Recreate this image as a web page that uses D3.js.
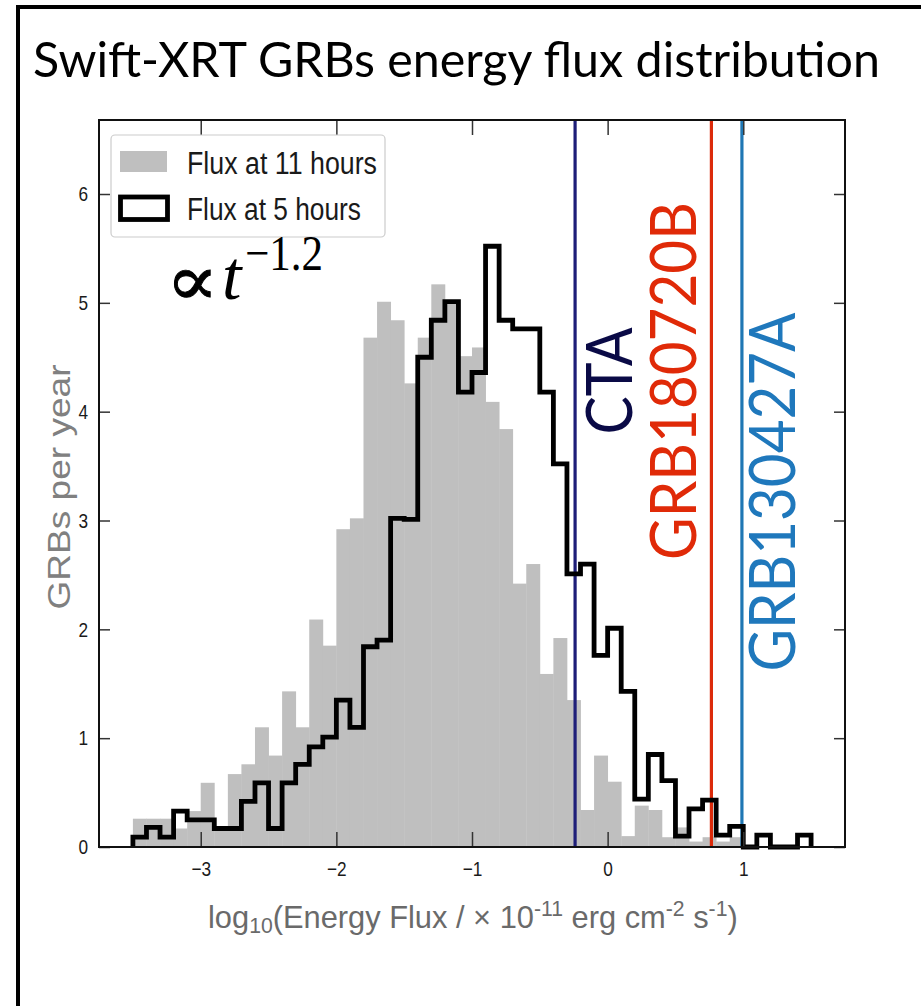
<!DOCTYPE html>
<html>
<head>
<meta charset="utf-8">
<script src="https://cdn.jsdelivr.net/npm/d3@7"></script>
<style>
  body { margin: 0; background: #fff; }
  svg { display: block; }
</style>
</head>
<body>
<svg id="chart" width="921" height="1006"></svg>
<script>
// Histogram binning: 0.1-dex bins in log10 energy flux, starting at -3.5
const binStart = -3.5;
const binWidth = 0.1;

// GRBs per year in each bin, flux extrapolated to 11 hours (filled histogram)
const flux11h = [
  0.26, 0.26, 0.26, 0.17, 0.33, 0.59, 0.15, 0.67, 0.76, 1.10,
  0.84, 1.43, 1.10, 2.09, 1.85, 2.92, 3.02, 4.68, 5.01, 4.84,
  4.26, 4.68, 5.17, 4.98, 4.51, 4.59, 4.09, 3.84, 2.42, 2.60,
  1.59, 1.92, 1.35, 0.34, 0.84, 0.60, 0.10, 0.38, 0.34, 0.09,
  0.18, 0.05, 0.09, 0.05, 0.09, 0.00, 0.00, 0.00, 0.00, 0.00
];

// GRBs per year in each bin, flux extrapolated to 5 hours (step outline)
const flux5h = [
  0.09, 0.18, 0.09, 0.33, 0.25, 0.25, 0.17, 0.17, 0.42, 0.59,
  0.17, 0.59, 0.76, 0.92, 1.01, 1.35, 1.10, 1.84, 1.90, 3.02,
  3.01, 4.50, 4.84, 5.01, 4.18, 4.36, 5.52, 4.84, 4.76, 4.76,
  4.18, 3.52, 2.51, 2.60, 1.76, 2.01, 1.43, 0.44, 0.85, 0.61,
  0.10, 0.35, 0.43, 0.11, 0.19, 0.00, 0.11, 0.00, 0.00, 0.11
];

// Reference flux levels drawn as vertical lines
const markerNames = ["CTA", "GRB180720B", "GRB130427A"];
const markerValues = [-0.24, 0.765, 0.99];

// Axis ticks
const xTicks = [-3, -2, -1, 0, 1];
const yTicks = [0, 1, 2, 3, 4, 5, 6];

const seriesNames = ["Flux at 11 hours", "Flux at 5 hours"];
const titleText = "Swift-XRT GRBs energy flux distribution";

// ---------------------------------------------------------------------------
const svg = d3.select("#chart");
const W = 921, H = 1006;
const plot = { left: 99, right: 845, top: 120, bottom: 847 };

const x = d3.scaleLinear().domain([-3.75, 1.75]).range([plot.left, plot.right]);
const y = d3.scaleLinear().domain([0, 6.68]).range([plot.bottom, plot.top]);

const narrow = "'Liberation Sans Narrow', 'Liberation Sans', Arial, sans-serif";
const calib = "Lato, 'Open Sans', sans-serif";
const markerColors = ["#1e1e78", "#dc2a0a", "#1f77b4"];
const markerTextColors = ["#0a0a46", "#e02a08", "#1f78bc"];

// squeeze a plain text element horizontally by a factor
function condense(sel, factor) {
  sel.each(function () {
    const w = this.getComputedTextLength();
    d3.select(this).attr("textLength", w * factor).attr("lengthAdjust", "spacingAndGlyphs");
  });
}

svg.append("rect").attr("width", W).attr("height", H).attr("fill", "#fff");

// slide frame
svg.append("rect")
  .attr("x", 18).attr("y", 7).attr("width", W + 10).attr("height", H + 10)
  .attr("fill", "none").attr("stroke", "#000").attr("stroke-width", 4);

// title
svg.append("text")
  .attr("x", 33).attr("y", 77)
  .attr("font-family", calib).attr("font-size", 49)
  .attr("fill", "#000")
  .attr("textLength", 847).attr("lengthAdjust", "spacingAndGlyphs")
  .text(titleText);

const bins = flux11h.map((v, i) => ({
  x0: binStart + i * binWidth,
  x1: binStart + (i + 1) * binWidth,
  v11: v,
  v5: flux5h[i]
}));

const g = svg.append("g");

// filled histogram (11 hours)
g.selectAll("rect.bar")
  .data(bins.filter(d => d.v11 > 0))
  .join("rect")
  .attr("class", "bar")
  .attr("x", d => x(d.x0))
  .attr("width", d => x(d.x1) - x(d.x0) + 0.4)
  .attr("y", d => y(d.v11))
  .attr("height", d => y(0) - y(d.v11))
  .attr("fill", "#bfbfbf");

// step outline (5 hours)
const stepPts = [[bins[0].x0, 0]];
bins.forEach(d => { stepPts.push([d.x0, d.v5]); stepPts.push([d.x1, d.v5]); });
stepPts.push([bins[bins.length - 1].x1, 0]);
const stepLine = d3.line().x(d => x(d[0])).y(d => y(d[1]));

// vertical reference lines
markerValues.forEach((v, i) => {
  g.append("line")
    .attr("x1", x(v)).attr("x2", x(v))
    .attr("y1", plot.top).attr("y2", plot.bottom)
    .attr("stroke", markerColors[i]).attr("stroke-width", 3.2);
});

g.append("path")
  .attr("d", stepLine(stepPts))
  .attr("fill", "none")
  .attr("stroke", "#000")
  .attr("stroke-width", 4.8)
  .attr("stroke-linejoin", "miter");

// vertical marker labels
const markerLabelPos = [
  { cx: 609, cy: 381, len: 107, fs: 64 },
  { cx: 673, cy: 381, len: 358, fs: 64 },
  { cx: 772, cy: 492, len: 359, fs: 64 }
];
markerNames.forEach((name, i) => {
  const p = markerLabelPos[i];
  svg.append("text")
    .attr("transform", `translate(${p.cx},${p.cy}) rotate(-90)`)
    .attr("text-anchor", "middle")
    .attr("dy", "0.36em")
    .attr("font-family", calib).attr("font-size", p.fs)
    .attr("fill", markerTextColors[i])
    .attr("textLength", p.len).attr("lengthAdjust", "spacingAndGlyphs")
    .text(name);
});

// axes with inward ticks on all four sides
const tickColor = "#333";
const xAxis = svg.append("g")
  .attr("transform", `translate(0,${plot.bottom})`)
  .call(d3.axisBottom(x).tickValues(xTicks).tickSize(-15).tickPadding(14).tickFormat(d3.format("d")));
const yAxis = svg.append("g")
  .attr("transform", `translate(${plot.left},0)`)
  .call(d3.axisLeft(y).tickValues(yTicks).tickSize(-11).tickPadding(11).tickFormat(d3.format("d")));
const xTop = svg.append("g")
  .attr("transform", `translate(0,${plot.top})`)
  .call(d3.axisTop(x).tickValues(xTicks).tickSize(-15).tickFormat(""));
const yRight = svg.append("g")
  .attr("transform", `translate(${plot.right},0)`)
  .call(d3.axisRight(y).tickValues(yTicks).tickSize(-11).tickFormat(""));

[xAxis, yAxis, xTop, yRight].forEach(a => {
  a.select(".domain").remove();
  a.selectAll(".tick line").attr("stroke", tickColor).attr("stroke-width", 1.5);
  a.selectAll(".tick text")
    .attr("font-family", narrow).attr("font-size", 21).attr("fill", "#1a1a1a");
});
condense(xAxis.selectAll(".tick text"), 0.82);
condense(yAxis.selectAll(".tick text"), 0.82);

// spines
svg.append("rect")
  .attr("x", plot.left).attr("y", plot.top)
  .attr("width", plot.right - plot.left).attr("height", plot.bottom - plot.top)
  .attr("fill", "none").attr("stroke", "#111").attr("stroke-width", 2);

// y label
svg.append("text")
  .attr("transform", `translate(58,487) rotate(-90)`)
  .attr("text-anchor", "middle")
  .attr("dy", "0.36em")
  .attr("font-family", narrow).attr("font-size", 32)
  .attr("fill", "#808080")
  .attr("textLength", 245).attr("lengthAdjust", "spacingAndGlyphs")
  .text("GRBs per year");

// x label with sub/superscripts, scaled to span its width
const xl = svg.append("text")
  .attr("x", 208).attr("y", 928)
  .attr("font-family", narrow).attr("font-size", 32)
  .attr("fill", "#6a6a6a");
const parts = [
  ["log", 0], ["10", -1], ["(Energy Flux / × 10", 0], ["-11", 1],
  [" erg cm", 0], ["-2", 1], [" s", 0], ["-1", 1], [")", 0]
];
parts.forEach(([t, s]) => {
  const ts = xl.append("tspan").text(t);
  if (s !== 0) {
    ts.attr("font-size", 22).attr("baseline-shift", s > 0 ? "55%" : "-25%");
  }
});
{
  const bb = xl.node().getBBox();
  const sx = 530 / bb.width;
  xl.attr("transform", `translate(208,0) scale(${sx},1) translate(-208,0)`);
}

// legend
const lg = svg.append("g");
lg.append("rect")
  .attr("x", 111).attr("y", 135).attr("width", 274).attr("height", 102)
  .attr("rx", 4)
  .attr("fill", "#fff").attr("fill-opacity", 0.85)
  .attr("stroke", "#cccccc").attr("stroke-width", 1.2);
lg.append("rect")
  .attr("x", 120).attr("y", 151).attr("width", 47).attr("height", 21)
  .attr("fill", "#bfbfbf");
lg.append("rect")
  .attr("x", 120.5).attr("y", 197).attr("width", 47).attr("height", 22.5)
  .attr("fill", "none").attr("stroke", "#000").attr("stroke-width", 4.8);
const legendTextLen = [190, 174];
seriesNames.forEach((name, i) => {
  lg.append("text")
    .attr("x", 187).attr("y", 174 + i * 46)
    .attr("font-family", narrow).attr("font-size", 31)
    .attr("fill", "#1a1a1a")
    .attr("textLength", legendTextLen[i]).attr("lengthAdjust", "spacingAndGlyphs")
    .text(name);
});

// power-law annotation: proportional sign, italic t, superscript exponent
const serif = "'DejaVu Serif', 'Liberation Serif', serif";
const tSerif = "'Liberation Serif', 'DejaVu Serif', serif";
svg.append("text")
  .attr("transform", "translate(166,305) scale(1.25,1.15)")
  .attr("font-family", serif).attr("font-size", 62)
  .attr("fill", "#000").attr("stroke", "#000").attr("stroke-width", 0.8)
  .text("∝");
const ann = svg.append("text")
  .attr("x", 222).attr("y", 299)
  .attr("fill", "#000");
ann.append("tspan")
  .attr("font-family", tSerif).attr("font-size", 70).attr("font-style", "italic")
  .text("t");
ann.append("tspan")
  .attr("x", 245).attr("y", 270)
  .attr("font-family", tSerif).attr("font-size", 50)
  .attr("textLength", 78).attr("lengthAdjust", "spacingAndGlyphs")
  .text("−1.2");
</script>
</body>
</html>
